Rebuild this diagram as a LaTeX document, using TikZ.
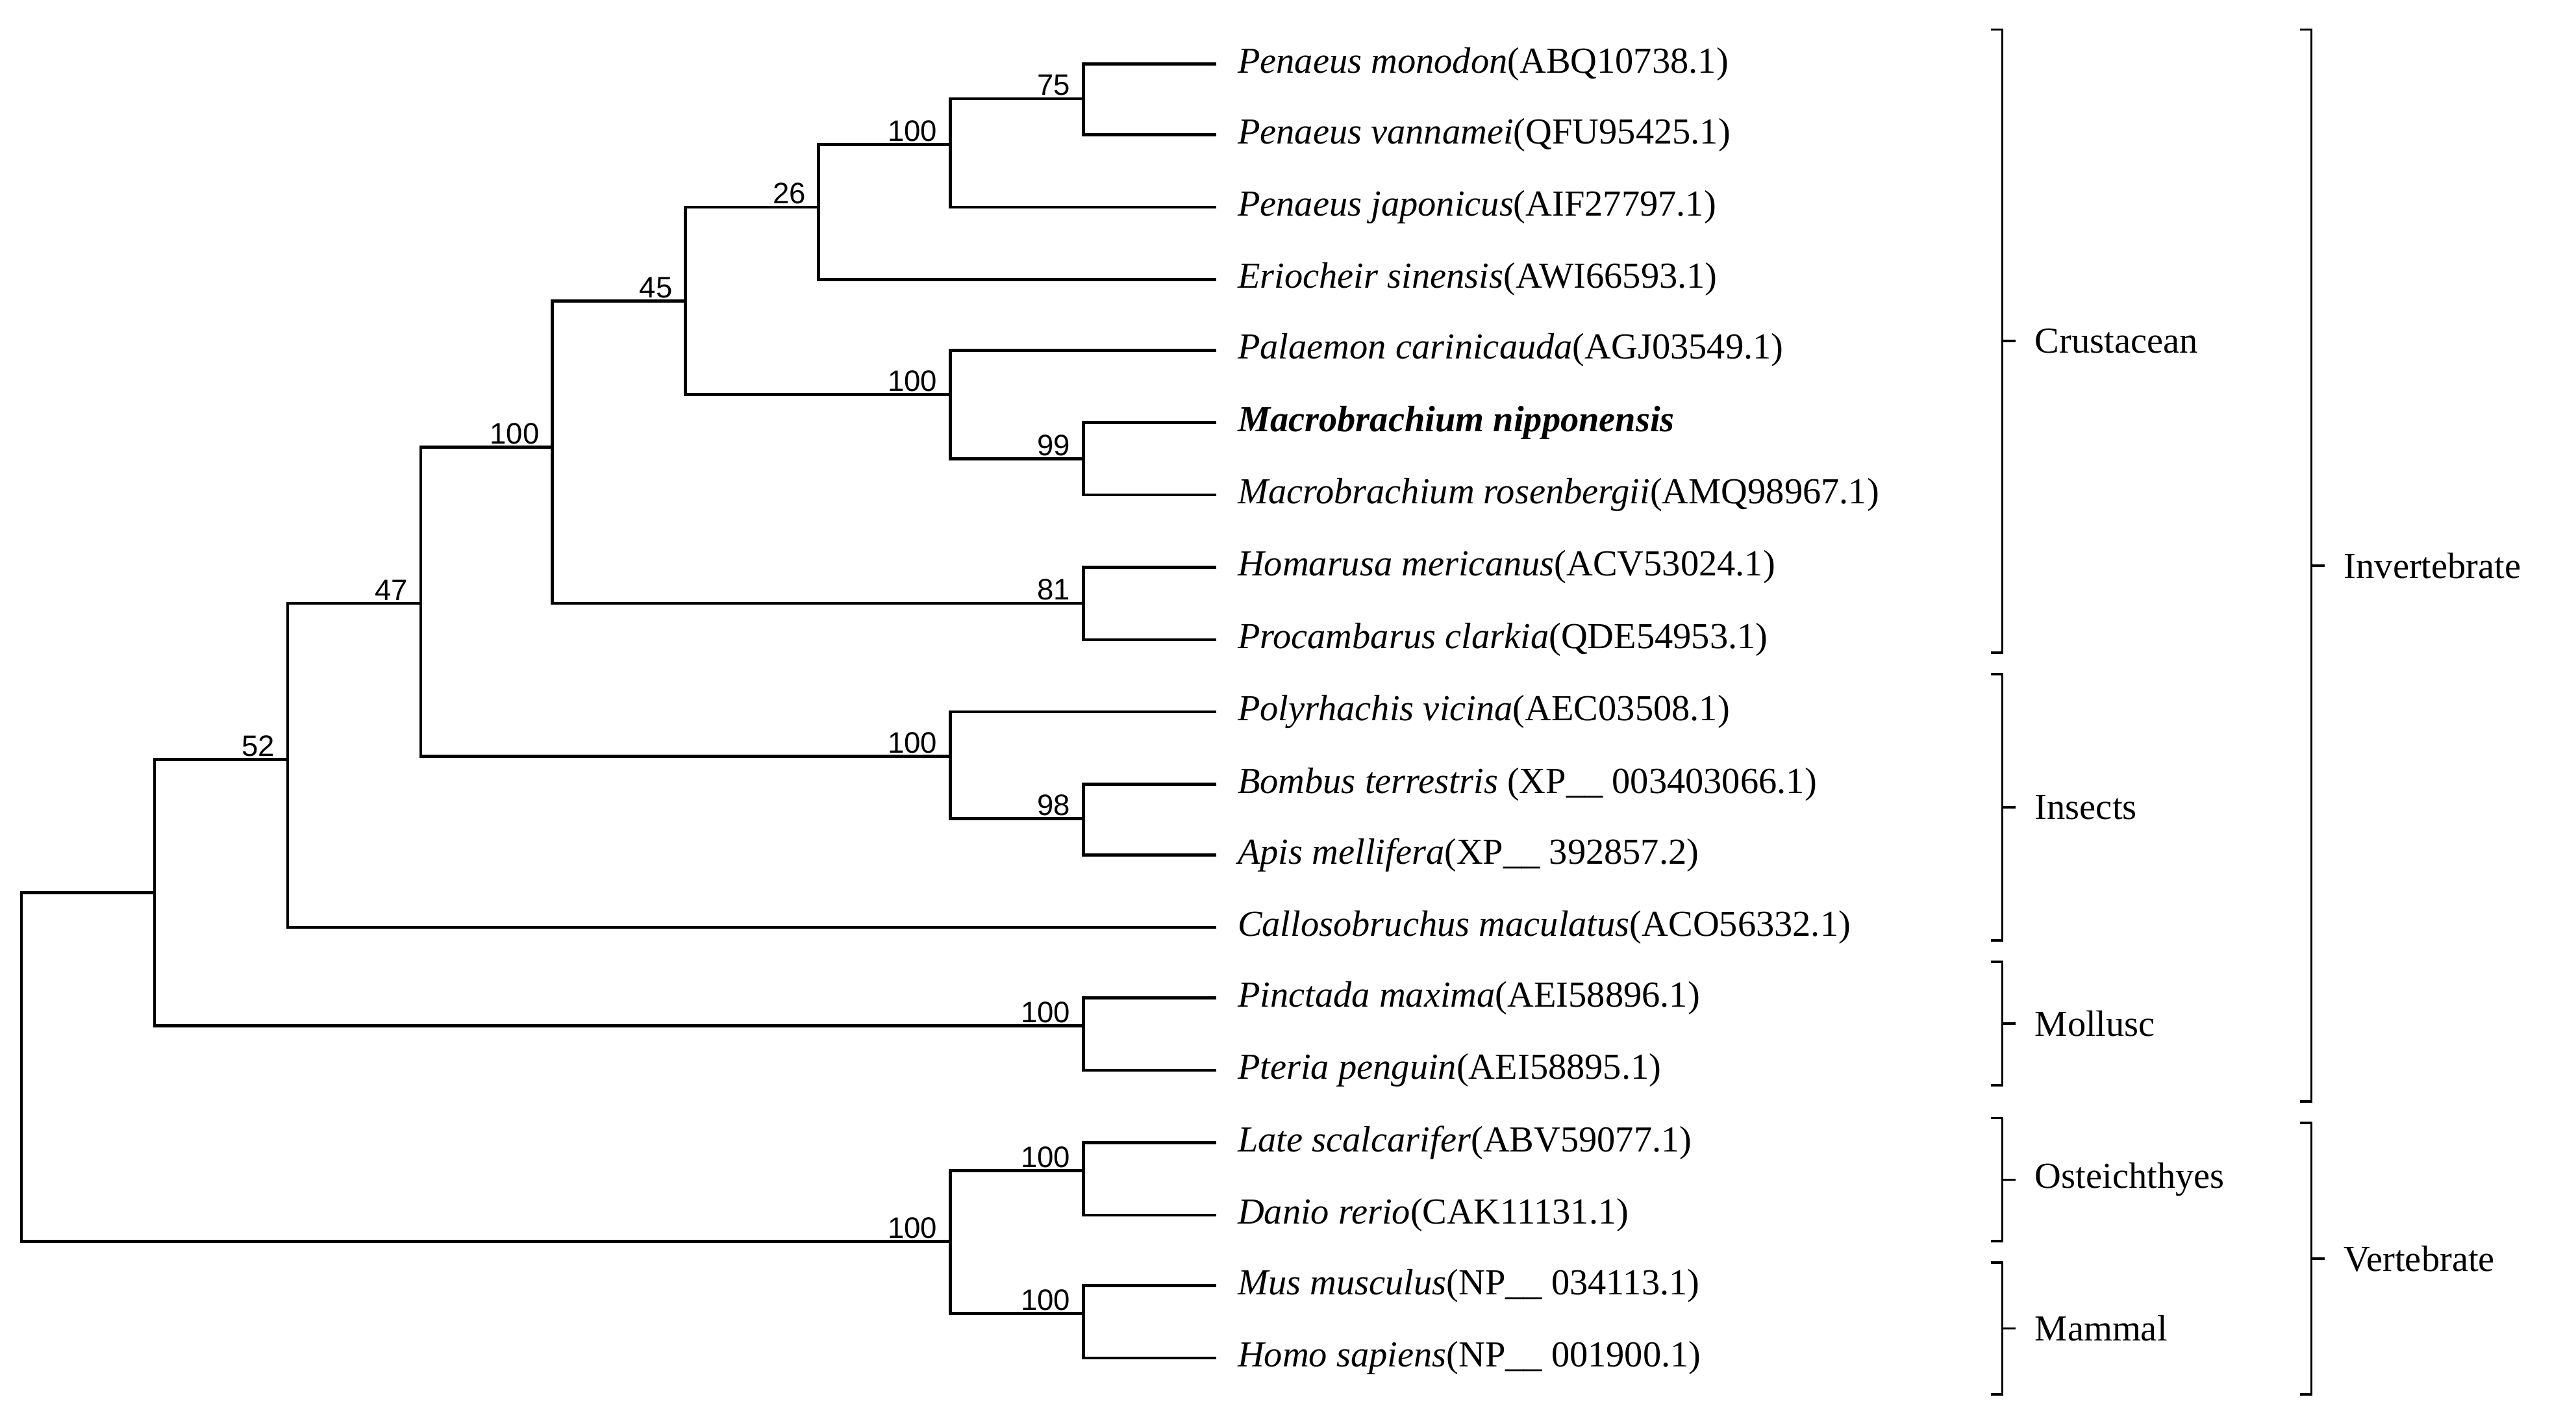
\documentclass[tikz,border=0pt]{standalone}
\usepackage{fontspec}
\setmainfont{Liberation Serif}
\newfontfamily\numfont{Liberation Sans}
\begin{document}
\begin{tikzpicture}[x=1pt,y=-1pt,line width=1.8pt,
  leaf/.style={anchor=west,inner sep=0pt,font=\fontsize{22.3}{25}\selectfont},
  bs/.style={font=\numfont\fontsize{18}{20}\selectfont,anchor=south east,inner sep=1pt,xshift=-6pt},
  grp/.style={anchor=west,inner sep=0pt,font=\fontsize{22.3}{25}\selectfont}]
\useasboundingbox (0,0) rectangle (1567,864);
% leaves
\foreach \i/\y in {1/39,2/82,3/126,4/170,5/213,6/257,7/301,8/345,9/389,10/433,11/477,12/520,13/564,14/607,15/651,16/695,17/739,18/782,19/826}
  \coordinate (l\i) at (740,\y);
\node[leaf] (t1) at (752,39) {\textit{Penaeus monodon}(ABQ10738.1)};
\node[leaf] (t2) at (752,82) {\textit{Penaeus vannamei}(QFU95425.1)};
\node[leaf] (t3) at (752,126) {\textit{Penaeus japonicus}(AIF27797.1)};
\node[leaf] (t4) at (752,170) {\textit{Eriocheir sinensis}(AWI66593.1)};
\node[leaf] (t5) at (752,213) {\textit{Palaemon carinicauda}(AGJ03549.1)};
\node[leaf] (t6) at (752,257) {\textbf{\textit{Macrobrachium nipponensis}}};
\node[leaf] (t7) at (752,301) {\textit{Macrobrachium rosenbergii}(AMQ98967.1)};
\node[leaf] (t8) at (752,345) {\textit{Homarusa mericanus}(ACV53024.1)};
\node[leaf] (t9) at (752,389) {\textit{Procambarus clarkia}(QDE54953.1)};
\node[leaf] (t10) at (752,433) {\textit{Polyrhachis vicina}(AEC03508.1)};
\node[leaf] (t11) at (752,477) {\textit{Bombus terrestris} (XP\_\_ 003403066.1)};
\node[leaf] (t12) at (752,520) {\textit{Apis mellifera}(XP\_\_ 392857.2)};
\node[leaf] (t13) at (752,564) {\textit{Callosobruchus maculatus}(ACO56332.1)};
\node[leaf] (t14) at (752,607) {\textit{Pinctada maxima}(AEI58896.1)};
\node[leaf] (t15) at (752,651) {\textit{Pteria penguin}(AEI58895.1)};
\node[leaf] (t16) at (752,695) {\textit{Late scalcarifer}(ABV59077.1)};
\node[leaf] (t17) at (752,739) {\textit{Danio rerio}(CAK11131.1)};
\node[leaf] (t18) at (752,782) {\textit{Mus musculus}(NP\_\_ 034113.1)};
\node[leaf] (t19) at (752,826) {\textit{Homo sapiens}(NP\_\_ 001900.1)};
% internal nodes
\coordinate (A) at (659,60);
\coordinate (B) at (578,88);
\coordinate (C) at (498,126);
\coordinate (E) at (659,279);
\coordinate (D) at (578,240);
\coordinate (F) at (417,183);
\coordinate (G) at (659,367);
\coordinate (H) at (336,272);
\coordinate (I) at (659,498);
\coordinate (J) at (578,460);
\coordinate (K) at (256,367);
\coordinate (L) at (175,462);
\coordinate (M) at (659,624);
\coordinate (N) at (94,543);
\coordinate (O) at (659,712);
\coordinate (P) at (659,799);
\coordinate (Q) at (578,755);
\coordinate (R) at (13,649);
\foreach \c/\p in {l1/A,l2/A,A/B,l3/B,B/C,l4/C,l6/E,l7/E,l5/D,E/D,C/F,D/F,l8/G,l9/G,F/H,G/H,l11/I,l12/I,l10/J,I/J,H/K,J/K,K/L,l13/L,l14/M,l15/M,L/N,M/N,l16/O,l17/O,l18/P,l19/P,O/Q,P/Q,N/R,Q/R}
  \draw (\c) -| (\p);
% bootstrap labels
\foreach \c/\v in {A/75,B/100,C/26,E/99,D/100,F/45,G/81,H/100,I/98,J/100,K/47,L/52,M/100,O/100,P/100,Q/100}
  \node[bs] at (\c) {\v};
% brackets
\tikzset{brk/.style={line width=1.5pt}}
\foreach \x/\a/\b/\n/\t in {1218/18/397/g1/Crustacean,1218/410/572/g2/Insects,1218/585/660/g3/Mollusc,1218/680/755/g4/Osteichthyes,1218/768/848/g5/Mammal,1406/18/670/g6/Invertebrate,1406/683/848/g7/Vertebrate}{
  \draw[brk] (\x-7,\a) -- (\x,\a) -- (\x,\b) -- (\x-7,\b);
  \draw[brk] (\x,{(\a+\b)/2}) -- (\x+8,{(\a+\b)/2});
  \node[grp] (\n) at (\x+19,{(\a+\b)/2}) {\t};
}
\end{tikzpicture}
\end{document}
